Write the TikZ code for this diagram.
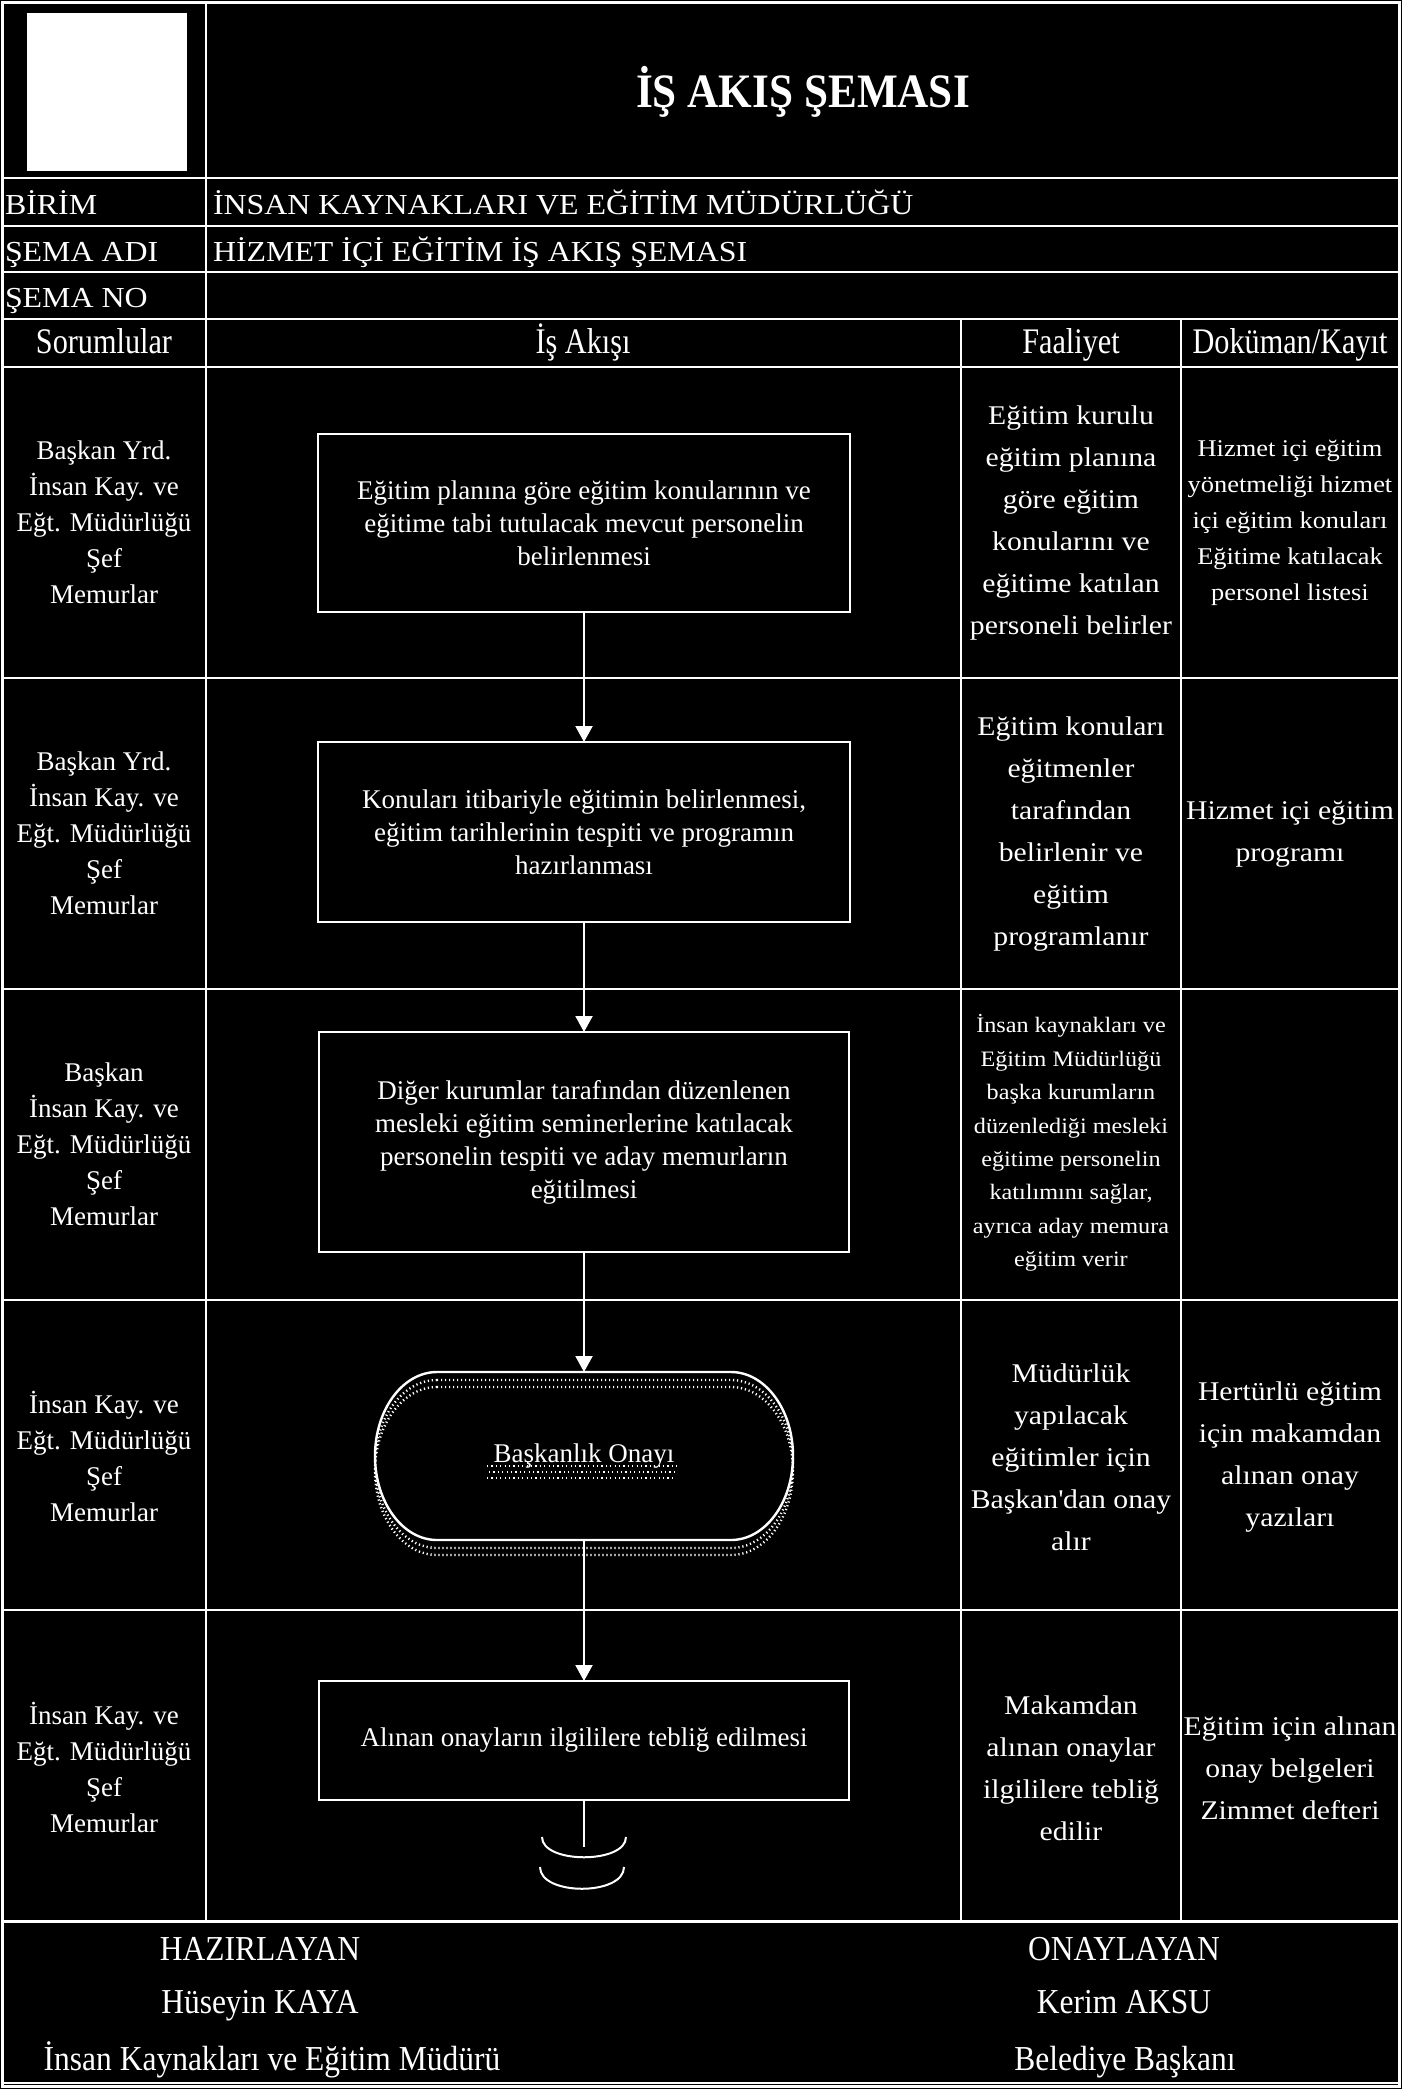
\documentclass[tikz,border=0pt]{standalone}
\usepackage{fontspec}
\setmainfont{Liberation Serif}
\newfontfamily\fwide[FakeStretch=1.1]{Liberation Serif}
\newfontfamily\fcond[FakeStretch=0.84]{Liberation Serif}
\newfontfamily\fnarrow[FakeStretch=0.9]{Liberation Serif}
\usetikzlibrary{arrows.meta}
\begin{document}
\begin{tikzpicture}[x=0.5pt, y=-0.5pt,
  every node/.style={text=white, inner sep=0pt, outer sep=0pt},
  gridln/.style={draw=white, line width=1.25pt},
  outerln/.style={draw=white, line width=1.5pt},
  boxn/.style={draw=white, line width=1.2pt, rectangle, align=center, font=\fontsize{13.5}{16.5}\selectfont},
  flow/.style={draw=white, line width=1pt, -{Triangle[length=8pt,width=8.5pt]}},
  conn/.style={draw=white, line width=1pt},
  lbl/.style={align=center, font=\fontsize{13.5}{18}\selectfont},
  actx/.style={align=center, font=\fwide\fontsize{13.5}{21}\selectfont},
  actsm/.style={align=center, font=\fwide\fontsize{11}{16.7}\selectfont},
  docsm/.style={align=center, font=\fwide\fontsize{12}{18}\selectfont},
  hdr/.style={font=\fcond\fontsize{18}{20}\selectfont, anchor=base},
  meta/.style={font=\fwide\fontsize{14.5}{16}\selectfont, anchor=base west},
  ttl/.style={font=\fnarrow\bfseries\fontsize{24}{26}\selectfont, anchor=base},
  foot/.style={font=\fnarrow\fontsize{17.5}{20}\selectfont, anchor=base},
  dotshadow/.style={draw=white, line width=1.2pt, dash pattern=on 0.6pt off 1.4pt},
  txtshadow/.style={draw=white, line width=0.9pt, dash pattern=on 0.6pt off 1.6pt}
]
% background and bounding box
\fill[black] (0,0) rectangle (1402,2089);
\useasboundingbox (0,0) rectangle (1402,2089);

% table grid
\draw[outerln] (2,2) rectangle (1399,2086);
\draw[gridln] (206,2) -- (206,1921);
\foreach \yy in {178,226,272,319,367,678,989,1300,1610}
  \draw[gridln] (2,\yy) -- (1399,\yy);
\draw[outerln] (2,1921) -- (1399,1921);
\draw[gridln] (2,2083) -- (1399,2083);
\draw[gridln] (961,319) -- (961,1921);
\draw[gridln] (1181,319) -- (1181,1921);

% logo placeholder
\fill[white] (27,13) rectangle (187,171);

% title and meta rows
\node[ttl] (title) at (803,107) {İŞ AKIŞ ŞEMASI};
\node[meta] (birim) at (5,214) {BİRİM};
\node[meta] (birimv) at (213,214) {İNSAN KAYNAKLARI VE EĞİTİM MÜDÜRLÜĞÜ};
\node[meta] (adi) at (5,261) {ŞEMA ADI};
\node[meta] (adiv) at (213,261) {HİZMET İÇİ EĞİTİM İŞ AKIŞ ŞEMASI};
\node[meta] (no) at (5,307) {ŞEMA NO};

% column headers
\node[hdr] (h1) at (104,353) {Sorumlular};
\node[hdr] (h2) at (583,353) {İş Akışı};
\node[hdr] (h3) at (1071,353) {Faaliyet};
\node[hdr] (h4) at (1290,353) {Doküman/Kayıt};

% responsible column
\node[lbl] (r1) at (104,522.5) {Başkan Yrd.\\İnsan Kay. ve\\Eğt. Müdürlüğü\\Şef\\Memurlar};
\node[lbl] (r2) at (104,833.5) {Başkan Yrd.\\İnsan Kay. ve\\Eğt. Müdürlüğü\\Şef\\Memurlar};
\node[lbl] (r3) at (104,1144.5) {Başkan\\İnsan Kay. ve\\Eğt. Müdürlüğü\\Şef\\Memurlar};
\node[lbl] (r4) at (104,1456) {İnsan Kay. ve\\Eğt. Müdürlüğü\\Şef\\Memurlar};
\node[lbl] (r5) at (104,1767) {İnsan Kay. ve\\Eğt. Müdürlüğü\\Şef\\Memurlar};

% activity column
\node[actx] (a1) at (1071,523) {Eğitim kurulu\\eğitim planına\\göre eğitim\\konularını ve\\eğitime katılan\\personeli belirler};
\node[actx] (a2) at (1071,834) {Eğitim konuları\\eğitmenler\\tarafından\\belirlenir ve\\eğitim\\programlanır};
\node[actsm] (a3) at (1071,1143) {İnsan kaynakları ve\\Eğitim Müdürlüğü\\başka kurumların\\düzenlediği mesleki\\eğitime personelin\\katılımını sağlar,\\ayrıca aday memura\\eğitim verir};
\node[actx] (a4) at (1071,1457) {Müdürlük\\yapılacak\\eğitimler için\\Başkan\textquotesingle dan onay\\alır};
\node[actx] (a5) at (1071,1768) {Makamdan\\alınan onaylar\\ilgililere tebliğ\\edilir};

% document column
\node[docsm] (d1) at (1290,522.5) {Hizmet içi eğitim\\yönetmeliği hizmet\\içi eğitim konuları\\Eğitime katılacak\\personel listesi};
\node[actx] (d2) at (1290,834) {Hizmet içi eğitim\\programı};
\node[actx] (d4) at (1290,1457) {Hertürlü eğitim\\için makamdan\\alınan onay\\yazıları};
\node[actx] (d5) at (1290,1768) {Eğitim için alınan\\onay belgeleri\\Zimmet defteri};

% flow boxes
\node[boxn, minimum width=266pt, minimum height=89pt] (b1) at (584,523)
  {Eğitim planına göre eğitim konularının ve\\eğitime tabi tutulacak mevcut personelin\\belirlenmesi};
\node[boxn, minimum width=266pt, minimum height=90pt] (b2) at (584,832)
  {Konuları itibariyle eğitimin belirlenmesi,\\eğitim tarihlerinin tespiti ve programın\\hazırlanması};
\node[boxn, minimum width=265pt, minimum height=110pt] (b3) at (584,1142)
  {Diğer kurumlar tarafından düzenlenen\\mesleki eğitim seminerlerine katılacak\\personelin tespiti ve aday memurların\\eğitilmesi};

% terminator with dotted shadow
\begin{scope}[yshift=-4pt]
\draw[dotshadow] (437,1372) -- (731,1372) .. controls (765.2,1372) and (793,1409.6) .. (793,1456) .. controls (793,1502.4) and (765.2,1540) .. (731,1540) -- (437,1540) .. controls (402.8,1540) and (375,1502.4) .. (375,1456) .. controls (375,1409.6) and (402.8,1372) .. (437,1372) -- cycle;
\end{scope}
\begin{scope}[yshift=-7.5pt]
\draw[dotshadow] (437,1372) -- (731,1372) .. controls (765.2,1372) and (793,1409.6) .. (793,1456) .. controls (793,1502.4) and (765.2,1540) .. (731,1540) -- (437,1540) .. controls (402.8,1540) and (375,1502.4) .. (375,1456) .. controls (375,1409.6) and (402.8,1372) .. (437,1372) -- cycle;
\end{scope}
% dotted shadow band under the terminator text
\draw[txtshadow] (487,1466) -- (678,1466);
\draw[txtshadow] (489,1472) -- (678,1472);
\draw[txtshadow] (487,1478) -- (676,1478);
\node[minimum width=209pt, minimum height=84pt, font=\fontsize{13.5}{16}\selectfont] (st) at (584,1456) {Başkanlık Onayı};
\draw[draw=white, line width=1.2pt] (437,1372) -- (731,1372) .. controls (765.2,1372) and (793,1409.6) .. (793,1456) .. controls (793,1502.4) and (765.2,1540) .. (731,1540) -- (437,1540) .. controls (402.8,1540) and (375,1502.4) .. (375,1456) .. controls (375,1409.6) and (402.8,1372) .. (437,1372) -- cycle;

\node[boxn, minimum width=265pt, minimum height=59.5pt] (b5) at (584,1740.5)
  {Alınan onayların ilgililere tebliğ edilmesi};

% connectors
\draw[flow] (b1) -- (b2);
\draw[flow] (b2) -- (b3);
\draw[flow] (b3) -- (st);
\draw[flow] (st) -- (b5);
\coordinate (endp) at (584,1847);
\draw[conn] (b5) -- (endp);
% end symbol arcs
\draw[conn] (542,1837) .. controls (542,1864) and (626,1864) .. (626,1837);
\draw[conn] (540,1867) .. controls (540,1896) and (624,1896) .. (624,1867);

% footer
\node[foot] (f1) at (260,1960) {HAZIRLAYAN};
\node[foot] (f2) at (260,2013) {Hüseyin KAYA};
\node[foot] (f3) at (272,2070) {İnsan Kaynakları ve Eğitim Müdürü};
\node[foot] (f4) at (1124,1960) {ONAYLAYAN};
\node[foot] (f5) at (1124,2013) {Kerim AKSU};
\node[foot] (f6) at (1125,2070) {Belediye Başkanı};
\end{tikzpicture}
\end{document}
